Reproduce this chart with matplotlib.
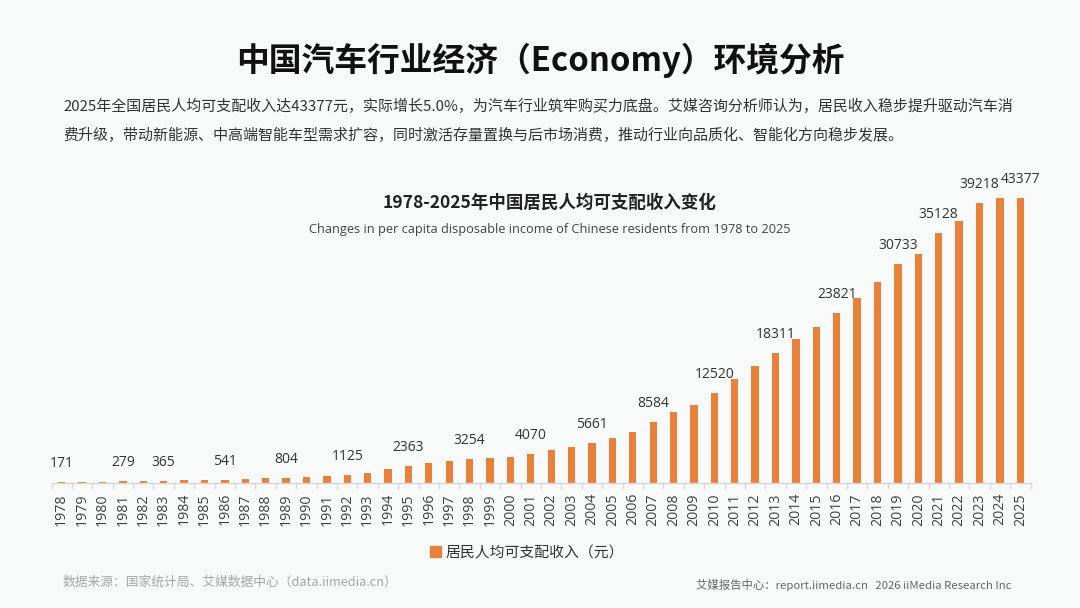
import matplotlib
matplotlib.use("Agg")
import matplotlib.pyplot as plt
from matplotlib.ticker import FixedLocator
from matplotlib.patches import Patch

plt.rcParams['font.family'] = ['Noto Sans CJK SC', 'DejaVu Sans']
latin = ['Open Sans', 'Noto Sans CJK SC', 'DejaVu Sans']

# data (yuan)
years = list(range(1978, 2026))
income = [130, 150, 170, 190, 280, 290, 360, 440, 460, 560,
          670, 760, 910, 1020, 1170, 1430, 2040, 2550, 2960, 3360,
          3570, 3720, 3970, 4380, 4940, 5400, 6100, 6860, 7780, 9300,
          10780, 11900, 13630, 15770, 17800, 19830, 21870, 23790, 25830, 28120,
          30650, 33310, 34880, 38030, 39960, 42700, 43370, 43377]

# the numbers printed above some of the bars
label_years = [1978, 1981, 1983, 1986, 1989, 1992, 1995, 1998, 2001, 2004,
               2007, 2010, 2013, 2016, 2019, 2021, 2023, 2025]
label_texts = ['171', '279', '365', '541', '804', '1125', '2363', '3254', '4070', '5661',
               '8584', '12520', '18311', '23821', '30733', '35128', '39218', '43377']

bar_color = '#e8823a'
bg = '#f8faf9'

W, H = 1080, 608
fig = plt.figure(figsize=(W / 100, H / 100), dpi=100, facecolor=bg)

# axes placed so the bars land where they sit in the picture
ax_left, ax_right = 51.5, 1030.5
base_y, ax_h = 482.7, 300
ax = fig.add_axes([ax_left / W, 1 - base_y / H, (ax_right - ax_left) / W, ax_h / H])
ax.set_facecolor('none')

x = list(range(len(years)))
ax.bar(x, income, width=0.36, color=bar_color, zorder=2)
ax.set_xlim(-0.5, len(years) - 0.5)
ax.set_ylim(0, 43377 * ax_h / 284.4)

for yr, txt in zip(label_years, label_texts):
    i = years.index(yr)
    ax.annotate(txt, (i, income[i]), xytext=(0, 8), textcoords='offset points',
                ha='center', va='bottom', fontsize=10, color='#333333', family=latin)

for s in ['top', 'right', 'left']:
    ax.spines[s].set_visible(False)
ax.spines['bottom'].set_color('#d6d6d6')
ax.spines['bottom'].set_linewidth(1.0)
ax.set_yticks([])
ax.set_xticks(x)
ax.set_xticklabels([str(y) for y in years], rotation=90, fontsize=10.2, color='#404040',
                   family=latin)
ax.tick_params(axis='x', which='major', length=0, pad=7.5)
ax.xaxis.set_minor_locator(FixedLocator([i - 0.5 for i in range(len(years) + 1)]))
ax.tick_params(axis='x', which='minor', length=4, color='#d6d6d6', width=1)

# texts
fig.text(540 / W, 1 - 60 / H, '中国汽车行业经济（Economy）环境分析', ha='center', va='center',
         fontsize=23.6, fontweight='bold', color='#111111')
fig.text(63 / W, 1 - 106 / H,
         '2025年全国居民人均可支配收入达43377元，实际增长5.0%，为汽车行业筑牢购买力底盘。艾媒咨询分析师认为，居民收入稳步提升驱动汽车消',
         ha='left', va='center', fontsize=10.8, color='#333333')
fig.text(63 / W, 1 - 135 / H,
         '费升级，带动新能源、中高端智能车型需求扩容，同时激活存量置换与后市场消费，推动行业向品质化、智能化方向稳步发展。',
         ha='left', va='center', fontsize=10.8, color='#333333')
fig.text(550 / W, 1 - 203 / H, '1978-2025年中国居民人均可支配收入变化', ha='center', va='center',
         fontsize=12.6, fontweight='bold', color='#222222')
fig.text(550 / W, 1 - 229 / H, 'Changes in per capita disposable income of Chinese residents from 1978 to 2025',
         ha='center', va='center', fontsize=9.2, color='#444444', family=latin)

fig.legend(handles=[Patch(color=bar_color, label='居民人均可支配收入（元）')],
           loc='center', bbox_to_anchor=(527 / W, 1 - 553 / H), frameon=False,
           fontsize=10.7, handlelength=0.75, handleheight=0.75, handletextpad=0.35,
           labelcolor='#333333')

fig.text(63 / W, 1 - 582 / H, '数据来源：国家统计局、艾媒数据中心（data.iimedia.cn）',
         ha='left', va='center', fontsize=9.2, color='#a6a6a6')
fig.text(1012 / W, 1 - 585 / H, '艾媒报告中心：report.iimedia.cn   2026 iiMedia Research Inc',
         ha='right', va='center', fontsize=8.2, color='#666666')

fig.savefig('out.png', dpi=100, facecolor=bg)
